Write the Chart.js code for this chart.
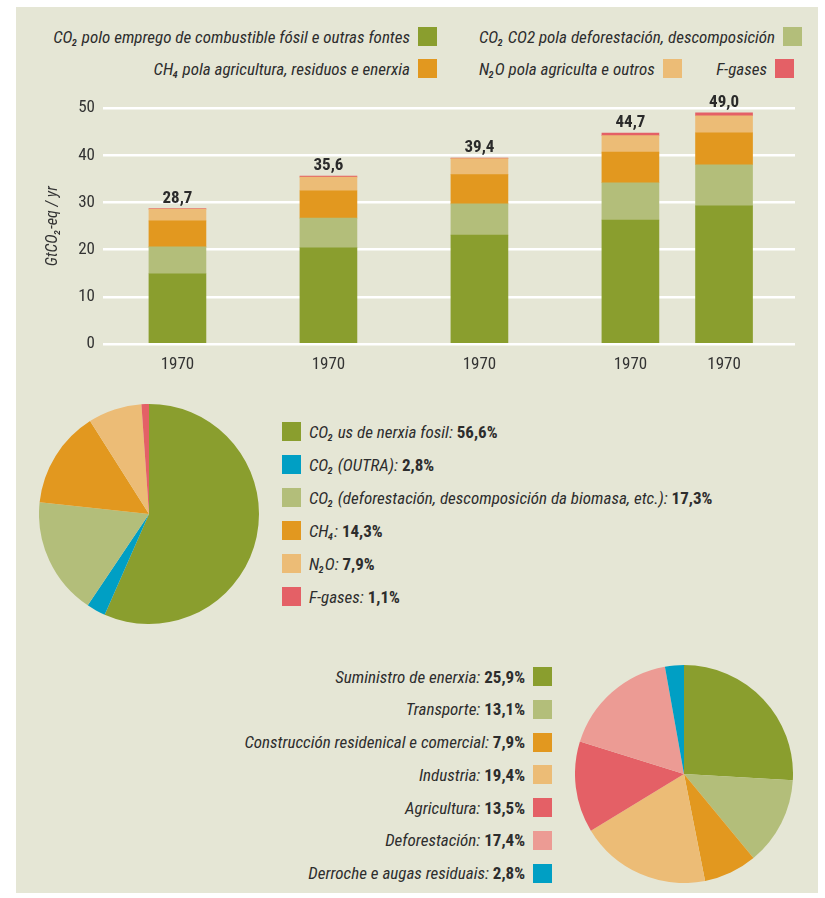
<!DOCTYPE html>
<html>
<head>
<meta charset="utf-8">
<script src="https://cdn.jsdelivr.net/npm/chart.js@4.4.0/dist/chart.umd.min.js"></script>
<style>
  html, body { margin: 0; padding: 0; background: #fff; }
  body {
    width: 825px; height: 898px; position: relative; overflow: hidden;
    font-family: "Roboto Condensed", "Roboto", "DejaVu Sans Condensed", sans-serif;
    font-stretch: condensed;
    color: #2d2d2d;
  }
  #panel { position: absolute; left: 16px; top: 7px; width: 802px; height: 886px; background: #e5e6d5; }
  .box { position: absolute; }
  .item { display: flex; align-items: center; height: 19px; font-size: 17px; white-space: nowrap; gap: 8px; }
  .item .txt i { font-style: italic; }
  .item .txt b { font-weight: bold; }
  .sw { width: 19px; height: 19px; flex: none; }
  .col { display: flex; flex-direction: column; }
</style>
</head>
<body>
<div id="panel"></div>

<div class="box" style="left:0; top:90px; width:825px; height:300px;"><canvas id="bars"></canvas></div>
<div class="box" style="left:39px; top:404px; width:220px; height:220px;"><canvas id="pieGas"></canvas></div>
<div class="box" style="left:575px; top:665px; width:218px; height:218px;"><canvas id="pieSector"></canvas></div>

<div class="box col" id="legTopLeft" style="right:388px; top:27px; align-items:flex-end; gap:13px;"></div>
<div class="box col" id="legTopRight" style="left:479px; top:27px; width:315px; gap:13px;"></div>
<div class="box col" id="legGas" style="left:282px; top:422px; gap:14px;"></div>
<div class="box col" id="legSector" style="right:273px; top:667px; align-items:flex-end; gap:13.8px;"></div>

<script>
// --- bar chart data ---
const barLabels = ['1970', '1970', '1970', '1970', '1970'];
const barPos = [0, 10, 20, 30, 36.2];
const co2Fossil = [14.9, 20.4, 23.1, 26.3, 29.3];
const co2Folu = [5.7, 6.3, 6.6, 7.9, 8.7];
const ch4 = [5.5, 5.8, 6.2, 6.5, 6.8];
const n2o = [2.5, 2.9, 3.4, 3.5, 3.6];
const fGases = [0.1, 0.2, 0.1, 0.5, 0.6];
const yTicks = [0, 10, 20, 30, 40, 50];

const seriesNames = [
  'CO₂ polo emprego de combustible fósil e outras fontes',
  'CO₂ CO2 pola deforestación, descomposición',
  'CH₄ pola agricultura, residuos e enerxia',
  'N₂O pola agriculta e outros',
  'F-gases'
];

// --- pie data ---
const gasLabels = ['CO₂ us de nerxia fosil', 'CO₂ (OUTRA)', 'CO₂ (deforestación, descomposición da biomasa, etc.)', 'CH₄', 'N₂O', 'F-gases'];
const gasShares = [56.6, 2.8, 17.3, 14.3, 7.9, 1.1];

const sectorLabels = ['Suministro de enerxia', 'Transporte', 'Construcción residenical e comercial', 'Industria', 'Agricultura', 'Deforestación', 'Derroche e augas residuais'];
const sectorShares = [25.9, 13.1, 7.9, 19.4, 13.5, 17.4, 2.8];

// colours
const GREEN = '#8a9e2e', LGREEN = '#b3be7a', ORANGE = '#e2981f', LORANGE = '#ecbc76',
      RED = '#e46066', BLUE = '#009fc4', PINK = '#ec9b94';
const seriesColors = [GREEN, LGREEN, ORANGE, LORANGE, RED];
const gasColors = [GREEN, BLUE, LGREEN, ORANGE, LORANGE, RED];
const sectorColors = [GREEN, LGREEN, ORANGE, LORANGE, RED, PINK, BLUE];

const FONT = '"Roboto Condensed", "DejaVu Sans Condensed", sans-serif';
Chart.defaults.font.family = FONT;
Chart.defaults.color = '#333';

const fmt = v => v.toFixed(1).replace('.', ',');

const seriesData = [co2Fossil, co2Folu, ch4, n2o, fGases];
const totals = barPos.map((p, i) => seriesData.reduce((s, arr) => s + arr[i], 0));

// totals above the bars
const totalsPlugin = {
  id: 'totals',
  afterDatasetsDraw(chart) {
    const { ctx, scales: { x, y } } = chart;
    ctx.save();
    ctx.font = 'bold 17px ' + FONT;
    ctx.fillStyle = '#2a2a2a';
    ctx.textAlign = 'center';
    ctx.textBaseline = 'alphabetic';
    totals.forEach((t, i) => {
      ctx.fillText(fmt(t), x.getPixelForValue(barPos[i]), y.getPixelForValue(t) - 6);
    });
    ctx.restore();
  }
};

new Chart(document.getElementById('bars'), {
  type: 'bar',
  data: {
    datasets: seriesData.map((vals, k) => ({
      label: seriesNames[k],
      data: barPos.map((p, i) => ({ x: p, y: vals[i] })),
      backgroundColor: seriesColors[k],
      borderWidth: 0,
      barThickness: 57
    }))
  },
  options: {
    animation: false,
    responsive: true,
    maintainAspectRatio: false,
    layout: { padding: { left: 0, right: 30, top: 18, bottom: 0 } },
    plugins: { legend: { display: false }, tooltip: { enabled: false } },
    scales: {
      x: {
        type: 'linear',
        stacked: true,
        offset: false,
        min: -4.93,
        max: 40.9,
        grid: { display: false },
        border: { display: false },
        afterBuildTicks: s => { s.ticks = barPos.map(v => ({ value: v })); },
        afterFit: s => { s.height = 46; },
        ticks: {
          autoSkip: false, maxRotation: 0, padding: 3,
          font: { size: 17 },
          callback: (v, i) => barLabels[i]
        }
      },
      y: {
        stacked: true,
        min: 0,
        max: 50,
        grid: { color: '#ffffff', lineWidth: 2.5, drawTicks: false },
        border: { display: false },
        afterBuildTicks: s => { s.ticks = yTicks.map(v => ({ value: v })); },
        afterFit: s => { s.width = 103; },
        ticks: { padding: 8, font: { size: 17 } },
        title: {
          display: true,
          text: 'GtCO₂-eq / yr',
          font: { size: 16, style: 'italic' },
          padding: { top: 43, bottom: 0 }
        }
      }
    }
  },
  plugins: [totalsPlugin]
});

function makePie(id, labels, values, colors) {
  new Chart(document.getElementById(id), {
    type: 'pie',
    data: { labels: labels, datasets: [{ data: values, backgroundColor: colors, borderWidth: 0 }] },
    options: {
      animation: false,
      responsive: true,
      maintainAspectRatio: false,
      layout: { padding: 0 },
      plugins: { legend: { display: false }, tooltip: { enabled: false } }
    }
  });
}
makePie('pieGas', gasLabels, gasShares, gasColors);
makePie('pieSector', sectorLabels, sectorShares, sectorColors);

// --- html legends ---
function legendItem(html, color, swatchFirst) {
  const item = document.createElement('div');
  item.className = 'item';
  const txt = document.createElement('span');
  txt.className = 'txt';
  txt.innerHTML = html;
  const sw = document.createElement('span');
  sw.className = 'sw';
  sw.style.background = color;
  if (swatchFirst) { item.appendChild(sw); item.appendChild(txt); }
  else { item.appendChild(txt); item.appendChild(sw); }
  return item;
}

const topLeft = document.getElementById('legTopLeft');
topLeft.appendChild(legendItem('<i>' + seriesNames[0] + '</i>', seriesColors[0]));
topLeft.appendChild(legendItem('<i>' + seriesNames[2] + '</i>', seriesColors[2]));

const topRight = document.getElementById('legTopRight');
const r1 = legendItem('<i>' + seriesNames[1] + '</i>', seriesColors[1]);
r1.style.justifyContent = 'space-between';
topRight.appendChild(r1);
const r2 = document.createElement('div');
r2.style.display = 'flex';
r2.style.justifyContent = 'space-between';
r2.appendChild(legendItem('<i>' + seriesNames[3] + '</i>', seriesColors[3]));
r2.appendChild(legendItem('<i>' + seriesNames[4] + '</i>', seriesColors[4]));
topRight.appendChild(r2);

const legGas = document.getElementById('legGas');
gasLabels.forEach((l, i) => {
  legGas.appendChild(legendItem('<i>' + l + ':</i> <b>' + fmt(gasShares[i]) + '%</b>', gasColors[i], true));
});

const legSector = document.getElementById('legSector');
sectorLabels.forEach((l, i) => {
  legSector.appendChild(legendItem('<i>' + l + ':</i> <b>' + fmt(sectorShares[i]) + '%</b>', sectorColors[i]));
});
</script>
</body>
</html>
